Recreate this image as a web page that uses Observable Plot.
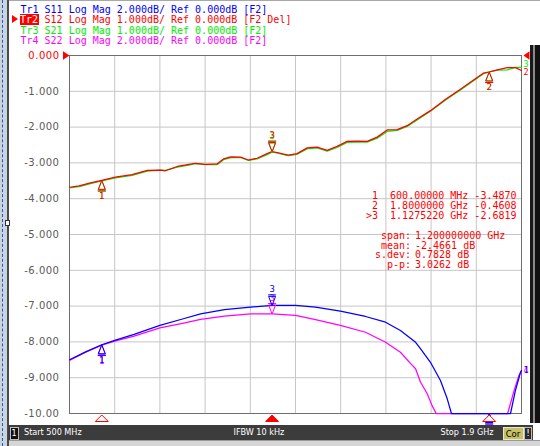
<!DOCTYPE html>
<html><head><meta charset="utf-8">
<script src="https://cdn.jsdelivr.net/npm/d3@7"></script>
<script src="https://cdn.jsdelivr.net/npm/@observablehq/plot@0.6"></script>
<style>
html,body{margin:0;padding:0;background:#fff;}
#wrap{position:relative;width:540px;height:446px;overflow:hidden;background:#fff;}
.abs{position:absolute;}
.mono{font-family:"DejaVu Sans Mono","Liberation Mono",monospace;font-size:10px;white-space:pre;line-height:11px;}
.stat{font-family:"DejaVu Sans Condensed","Liberation Sans",sans-serif;font-size:9px;white-space:pre;line-height:15px;color:#fff;}
#wrap svg{position:absolute;left:0;top:0;}
#wrap svg [aria-label="y-axis tick label"] text{letter-spacing:0.5px;}
.act{background:#ff0000;color:#fff;padding:0 0.5px 0 0;margin-left:-0.5px;}
</style></head><body><div id="wrap"></div><script>
// ---- stimulus / axis ----
const startMHz = 500, stopMHz = 1900;
const yTicks = [0, -1, -2, -3, -4, -5, -6, -7, -8, -9, -10];
const xGrid = [500, 640, 780, 920, 1060, 1200, 1340, 1480, 1620, 1760, 1900];

// ---- traces ----
const traceNames  = ["Tr1", "Tr2", "Tr3", "Tr4"];
const traceParams = ["S11", "S12", "S21", "S22"];
const traceScales = [2, 1, 1, 2];       // dB/div
const traceRefs   = [0, 0, 0, 0];       // dB
const traceTags   = ["[F2]", "[F2 Del]", "[F2]", "[F2]"];
const traceColors = ["#0000ff", "#ff0000", "#00ee00", "#ff00ff"];
const activeTrace = 1;

const s11Freq = [500,550,600,640,700,780,850,906,980,1061,1128,1200,1262,1339,1417,1479,1525,1572,1587,1618,1649,1670,1683,1700,1750,1800,1840,1866,1881,1897,1900];
const s11dB   = [-17.0,-16.56,-16.16,-15.92,-15.58,-15.08,-14.72,-14.44,-14.2,-14.06,-13.96,-13.96,-14.06,-14.28,-14.58,-14.9,-15.36,-16.02,-16.38,-17.14,-18.16,-19.18,-20.0,-21.2,-23.0,-23.6,-22.0,-20.0,-18.72,-17.7,-17.6];

const s12Freq = [500,530,565,600,642,694,741,782,797,834,870,890,921,957,977,1000,1030,1054,1081,1112,1127.522,1143,1160,1178,1205,1236,1267,1298,1329,1360,1391,1422,1453,1484,1515,1546,1572,1618,1665,1711,1757,1783,1800,1825,1856,1881,1900];
const s12dB   = [-3.68,-3.64,-3.56,-3.487,-3.40,-3.33,-3.21,-3.20,-3.22,-3.10,-3.04,-3.01,-3.04,-3.03,-2.89,-2.83,-2.84,-2.92,-2.87,-2.74,-2.6819,-2.71,-2.75,-2.78,-2.74,-2.58,-2.56,-2.65,-2.54,-2.40,-2.39,-2.40,-2.28,-2.08,-2.07,-1.96,-1.80,-1.54,-1.22,-0.94,-0.65,-0.49,-0.4608,-0.40,-0.34,-0.34,-0.42];

const s21Freq = [500,530,565,600,642,694,741,782,797,834,870,890,921,957,977,1000,1030,1054,1081,1112,1127.522,1143,1160,1178,1205,1236,1267,1298,1329,1360,1391,1422,1453,1484,1515,1546,1572,1618,1665,1711,1757,1783,1800,1825,1856,1881,1900];
const s21dB   = [-3.70,-3.66,-3.58,-3.50,-3.42,-3.35,-3.23,-3.20,-3.21,-3.12,-3.06,-3.02,-3.05,-3.05,-2.91,-2.85,-2.85,-2.93,-2.89,-2.77,-2.70,-2.72,-2.76,-2.80,-2.76,-2.61,-2.58,-2.67,-2.57,-2.43,-2.42,-2.42,-2.31,-2.12,-2.09,-1.98,-1.83,-1.56,-1.24,-0.96,-0.67,-0.50,-0.46,-0.41,-0.40,-0.33,-0.33];

const s22Freq = [500,550,600,640,700,780,850,906,980,1061,1128,1200,1262,1339,1417,1479,1525,1556,1572,1587,1608,1623,1636,1700,1800,1840,1857,1877,1892,1900];
const s22dB   = [-17.04,-16.58,-16.18,-15.96,-15.68,-15.22,-14.96,-14.74,-14.56,-14.44,-14.44,-14.52,-14.76,-15.08,-15.46,-16.02,-16.58,-17.2,-17.5,-18.24,-18.9,-19.56,-20.0,-22.0,-23.0,-21.2,-20.0,-18.72,-17.88,-17.6];

// ---- markers / statistics ----
const markerIds = [1, 2, 3];
const markerMHz = [600, 1800, 1127.522];
const markerReadout = [-3.4870, -0.4608, -2.6819];
const activeMarker = 3;
const statLabels = ["span:", "mean:", "s.dev:", "p-p:"];
const statValues = ["1.200000000 GHz", "-2.4661 dB", "0.7828 dB", "3.0262 dB"];
const statusTexts = ["Start 500 MHz", "IFBW 10 kHz", "Stop 1.9 GHz"];
const channelNo = "1";
const corText = "Cor";

// ---- build ----
const freqs = [s11Freq, s12Freq, s21Freq, s22Freq];
const dBs = [s11dB, s12dB, s21dB, s22dB];
const aScale = traceScales[activeTrace], aRef = traceRefs[activeTrace];
const toDisp = (v, i) => Math.max(-10, Math.min(0, (v - traceRefs[i]) / traceScales[i] * aScale + aRef));
const traces = traceNames.map((n, i) => {
  const pts = freqs[i].map((f, j) => ({f, v: toDisp(dBs[i][j], i)}));
  const interp = d3.scaleLinear().domain(freqs[i]).range(dBs[i]);
  const marks = markerIds.map((id, k) => ({f: markerMHz[k], v: toDisp(interp(markerMHz[k]), i), id, active: id === activeMarker}));
  return {i, pts, marks, color: traceColors[i], last: pts[pts.length - 1]};
});

const upSym = {draw(c){c.moveTo(0,0);c.lineTo(-3.5,9);c.lineTo(3.5,9);c.closePath();c.moveTo(-4,10.5);c.lineTo(4,10.5);}};
const downSym = {draw(c){c.moveTo(0,0);c.lineTo(-3.5,-9);c.lineTo(3.5,-9);c.closePath();c.moveTo(-4,-10.5);c.lineTo(4,-10.5);}};
const stimSym = {draw(c){c.moveTo(0,1.5);c.lineTo(-6.5,8);c.lineTo(6.5,8);c.closePath();}};
const leftRefSym = {draw(c){c.moveTo(0,0);c.lineTo(-6.5,-4.3);c.lineTo(-6.5,4.3);c.closePath();}};
const rightRefSym = {draw(c){c.moveTo(2,0);c.lineTo(8,-4.3);c.lineTo(8,4.3);c.closePath();}};

const order = [3, 0, 2, 1];
const endDy = [0, 1.5, -3.5, 0];   // small nudges of the trace-number labels at the right edge
const marks = [
  Plot.gridX(xGrid, {stroke: "#c6c6c6", strokeOpacity: 1}),
  Plot.gridY(yTicks, {stroke: "#c6c6c6", strokeOpacity: 1}),
  Plot.frame({stroke: "#6e6e6e"}),
  Plot.axisY(yTicks.filter(t => t !== 0), {tickSize: 0, tickPadding: 10, label: null, fill: "#5a5a5a", fontSize: 10,
    tickFormat: v => v === -10 ? "-10.00" : v.toFixed(3)}),
  Plot.axisY([0], {tickSize: 0, tickPadding: 10, label: null, fill: "#ff0000", fontSize: 10, tickFormat: v => v.toFixed(3)}),
];
for (const k of order) {
  const t = traces[k];
  marks.push(Plot.line(t.pts, {x: "f", y: "v", stroke: t.color, strokeWidth: 1.25}));
}
for (const k of order) {
  const t = traces[k];
  const up = t.marks.filter(m => !m.active), dn = t.marks.filter(m => m.active);
  marks.push(Plot.dot(up, {x: "f", y: "v", symbol: upSym, stroke: t.color, fill: "none", strokeWidth: 1}));
  marks.push(Plot.dot(dn, {x: "f", y: "v", symbol: downSym, stroke: t.color, fill: "none", strokeWidth: 1}));
  // labels of markers pinned to the bottom edge fall behind the status bar, so they are not drawn
  marks.push(Plot.text(up.filter(m => m.v > -10), {x: "f", y: "v", text: "id", dy: 15.5, fill: t.color, fontSize: 9, fontFamily: "DejaVu Sans Mono"}));
  marks.push(Plot.text(dn.filter(m => m.v > -10), {x: "f", y: "v", text: "id", dy: -16, fill: t.color, fontSize: 9, fontFamily: "DejaVu Sans Mono"}));
}
for (const k of order) {
  const t = traces[k];
  marks.push(Plot.text([t.last], {x: "f", y: "v", text: () => String(k + 1), dx: 2, dy: endDy[k], textAnchor: "start", fill: t.color, fontSize: 8.5, fontFamily: "DejaVu Sans Mono"}));
}
const stim = markerIds.map((id, k) => ({f: markerMHz[k], id, active: id === activeMarker}));
marks.push(Plot.dot(stim.filter(d => !d.active), {x: "f", y: () => -10, symbol: stimSym, stroke: "#ff0000", fill: "white", strokeWidth: 1}));
marks.push(Plot.dot(stim.filter(d => d.active), {x: "f", y: () => -10, symbol: stimSym, stroke: "#ff0000", fill: "#ff0000", strokeWidth: 1}));
marks.push(Plot.dot([{f: startMHz, v: aRef}], {x: "f", y: "v", symbol: leftRefSym, fill: "#ff0000", stroke: "none"}));
marks.push(Plot.dot([{f: stopMHz, v: aRef}], {x: "f", y: "v", symbol: rightRefSym, fill: "#ff0000", stroke: "none"}));

const chart = Plot.plot({
  width: 540, height: 446,
  marginLeft: 69, marginRight: 19, marginTop: 55, marginBottom: 33,
  x: {domain: [startMHz, stopMHz], axis: null},
  y: {domain: [-10, 0], axis: null},
  style: {background: "transparent", fontFamily: "DejaVu Sans, sans-serif", fontSize: "10px", overflow: "visible"},
  marks
});
const wrap = document.getElementById("wrap");
wrap.appendChild(chart);

function box(style, text, cls) {
  const d = document.createElement("div");
  d.className = "abs " + (cls || "");
  Object.assign(d.style, style);
  if (text != null) d.textContent = text;
  wrap.appendChild(d);
  return d;
}
// frame decorations
box({left: "0px", top: "0px", width: "7px", height: "446px", background: "#c9d4df"});
box({left: "2px", top: "0px", width: "0px", height: "446px", borderLeft: "1.5px dashed #2456c0"});
box({left: "7px", top: "0px", width: "2px", height: "446px", background: "#4a4a4a"});
box({left: "5px", top: "220px", width: "3px", height: "4px", background: "#fff", border: "1px solid #333"});
box({left: "9px", top: "0px", width: "531px", height: "1px", background: "#a8a8a8"});
box({left: "530px", top: "45px", width: "3px", height: "378px", background: "#1a1a1a"});
box({left: "533px", top: "45px", width: "2px", height: "378px", background: "#8a8a8a"});
box({left: "535px", top: "45px", width: "5px", height: "378px", background: "#111"});

// header rows
traceNames.forEach((n, i) => {
  const top = 3.5 + i * 10.65;
  const rest = ` ${traceParams[i]} Log Mag ${traceScales[i].toFixed(3)}dB/ Ref ${traceRefs[i].toFixed(3)}dB ${traceTags[i]}`;
  const row = box({left: "20.5px", top: top + "px", color: traceColors[i]}, null, "mono");
  const nm = document.createElement("span");
  nm.textContent = n;
  if (i === activeTrace) nm.className = "act";
  row.appendChild(nm);
  row.appendChild(document.createTextNode(rest));
  if (i === activeTrace) {
    box({left: "12px", top: (top + 1) + "px", width: "0px", height: "0px", borderTop: "4.5px solid transparent", borderBottom: "4.5px solid transparent", borderLeft: "6px solid #ff0000"});
  }
});

// marker readout
markerIds.forEach((id, k) => {
  const f = markerMHz[k];
  const fs = f < 1000 ? f.toFixed(5) + " MHz" : (f / 1000).toFixed(7) + " GHz";
  const s = (id === activeMarker ? ">" : " ") + id + "  " + fs + " " + markerReadout[k].toFixed(4);
  box({left: "366px", top: (189.5 + k * 10) + "px", color: "#ff0000"}, s, "mono");
});
statLabels.forEach((l, k) => {
  const top = 230 + k * 9.7;
  box({left: "350px", width: "61px", top: top + "px", color: "#ff0000", textAlign: "right"}, l, "mono");
  box({left: "415px", top: top + "px", color: "#ff0000"}, statValues[k], "mono");
});

// status bar
box({left: "8px", top: "425px", width: "525px", height: "15px", background: "#3c3c3c"});
box({left: "9.5px", top: "426.5px", width: "7px", height: "11px", background: "#111", border: "1px solid #bdbdbd", color: "#fff", lineHeight: "11px", textAlign: "center", fontSize: "9px", fontFamily: "DejaVu Sans Condensed, Liberation Sans, sans-serif"}, channelNo);
box({left: "24px", top: "425px"}, statusTexts[0], "stat");
box({left: "233.5px", top: "425px"}, statusTexts[1], "stat");
box({left: "440.5px", top: "425px"}, statusTexts[2], "stat");
box({left: "502.5px", top: "426.5px", width: "19px", height: "11px", background: "#c8c066", border: "1px solid #e8e8c8", color: "#000", lineHeight: "11px", textAlign: "center", fontSize: "9.5px", fontFamily: "DejaVu Sans Condensed, Liberation Sans, sans-serif"}, corText);
box({left: "524px", top: "426.5px", width: "6px", height: "11px", background: "#2a2a2a", border: "1px solid #bdbdbd", color: "#fff", lineHeight: "11px", textAlign: "center", fontSize: "9px", fontFamily: "DejaVu Sans, sans-serif"}, "!");
box({left: "9px", top: "440px", width: "531px", height: "6px", background: "#d6d6d6", borderTop: "1px solid #9a9a9a"});
</script></body></html>
